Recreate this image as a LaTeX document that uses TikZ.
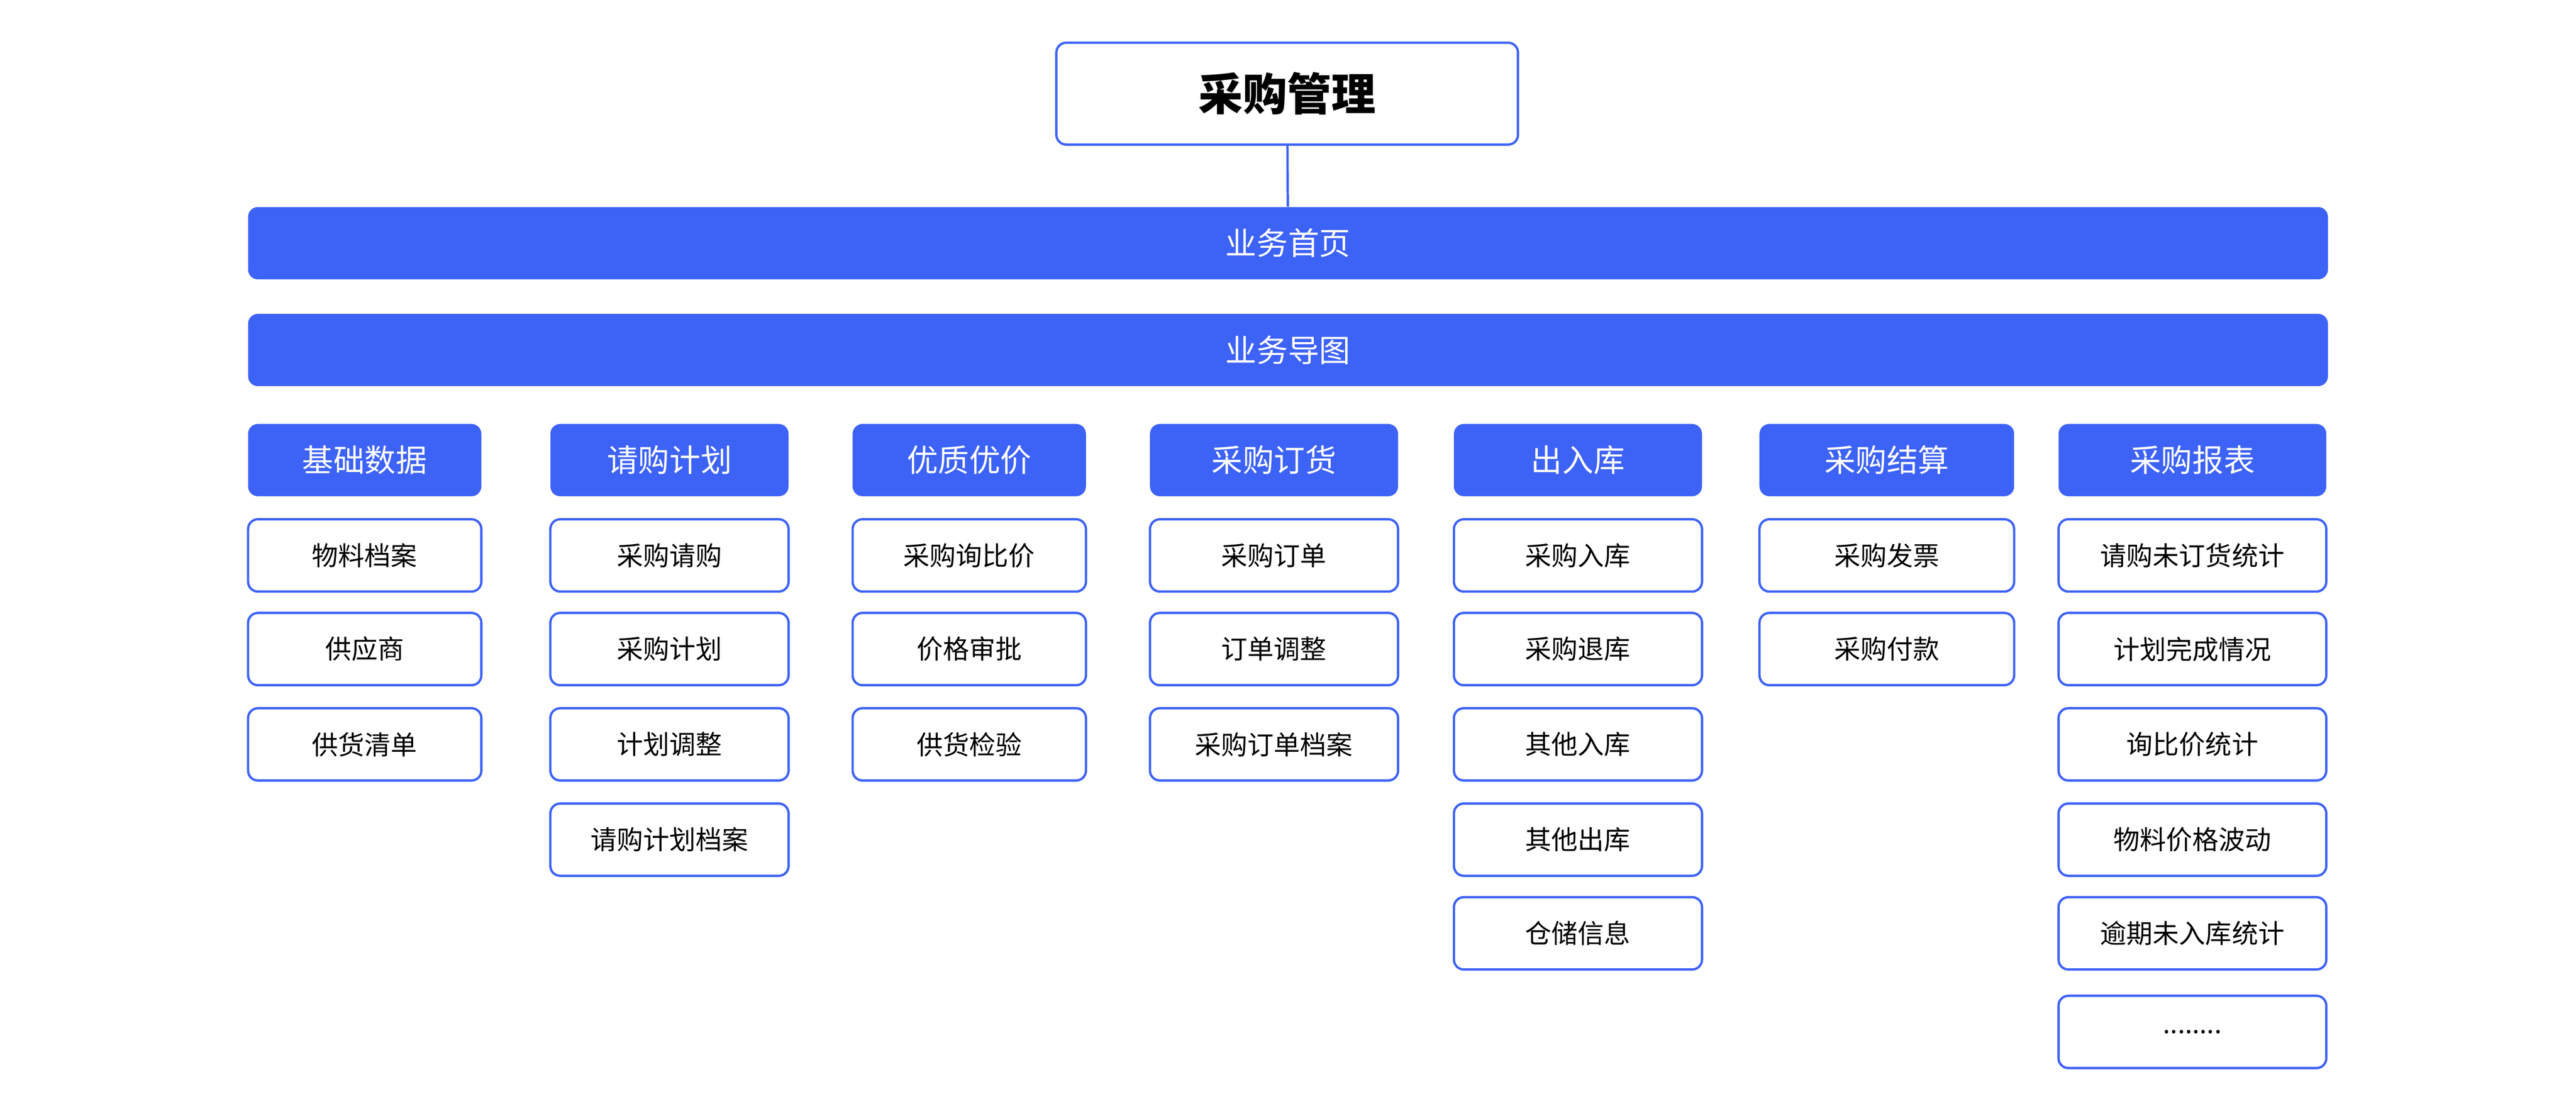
\documentclass[tikz,border=0pt]{standalone}
\usepackage{fontspec}
\setmainfont{Noto Sans CJK SC}
\definecolor{bl}{HTML}{3D62F6}
\tikzset{
 box/.style={draw=bl,line width=1.4pt,rounded corners=6pt,fill=white,inner sep=0pt,font=\fontsize{16}{18}\selectfont},
 hd/.style={fill=bl,rounded corners=6pt,inner sep=0pt,text=white,font=\fontsize{19}{22}\selectfont},
}
\newcommand{\bx}[6]{\node[#1,minimum width=#4pt-#3pt,minimum height=44pt] (#6) at ({(#3+#4)/2*1pt},{-#5*1pt-22pt}) {#2};}
\begin{document}
\begin{tikzpicture}[x=1pt,y=-1pt]
\useasboundingbox (0,0) rectangle (1568,676);
\node[box,minimum width=281pt,minimum height=62pt,font=\fontsize{27}{30}\selectfont\bfseries] (title) at (783.5,57) {采购管理};
\bx{hd}{业务首页}{151}{1417}{126}{bar1}
\bx{hd}{业务导图}{151}{1417}{191}{bar2}
\draw[bl,line width=1.4pt] (title) -- (bar1);
% columns
\bx{hd}{基础数据}{151}{293}{258}{h1}
\bx{box}{物料档案}{151}{293}{316}{a1}
\bx{box}{供应商}{151}{293}{373}{a2}
\bx{box}{供货清单}{151}{293}{431}{a3}
\bx{hd}{请购计划}{335}{480}{258}{h2}
\bx{box}{采购请购}{335}{480}{316}{b1}
\bx{box}{采购计划}{335}{480}{373}{b2}
\bx{box}{计划调整}{335}{480}{431}{b3}
\bx{box}{请购计划档案}{335}{480}{489}{b4}
\bx{hd}{优质优价}{519}{661}{258}{h3}
\bx{box}{采购询比价}{519}{661}{316}{c1}
\bx{box}{价格审批}{519}{661}{373}{c2}
\bx{box}{供货检验}{519}{661}{431}{c3}
\bx{hd}{采购订货}{700}{851}{258}{h4}
\bx{box}{采购订单}{700}{851}{316}{d1}
\bx{box}{订单调整}{700}{851}{373}{d2}
\bx{box}{采购订单档案}{700}{851}{431}{d3}
\bx{hd}{出入库}{885}{1036}{258}{h5}
\bx{box}{采购入库}{885}{1036}{316}{e1}
\bx{box}{采购退库}{885}{1036}{373}{e2}
\bx{box}{其他入库}{885}{1036}{431}{e3}
\bx{box}{其他出库}{885}{1036}{489}{e4}
\bx{box}{仓储信息}{885}{1036}{546}{e5}
\bx{hd}{采购结算}{1071}{1226}{258}{h6}
\bx{box}{采购发票}{1071}{1226}{316}{f1}
\bx{box}{采购付款}{1071}{1226}{373}{f2}
\bx{hd}{采购报表}{1253}{1416}{258}{h7}
\bx{box}{请购未订货统计}{1253}{1416}{316}{g1}
\bx{box}{计划完成情况}{1253}{1416}{373}{g2}
\bx{box}{询比价统计}{1253}{1416}{431}{g3}
\bx{box}{物料价格波动}{1253}{1416}{489}{g4}
\bx{box}{逾期未入库统计}{1253}{1416}{546}{g5}
\bx{box}{........}{1253}{1416}{606}{g6}
\end{tikzpicture}
\end{document}
